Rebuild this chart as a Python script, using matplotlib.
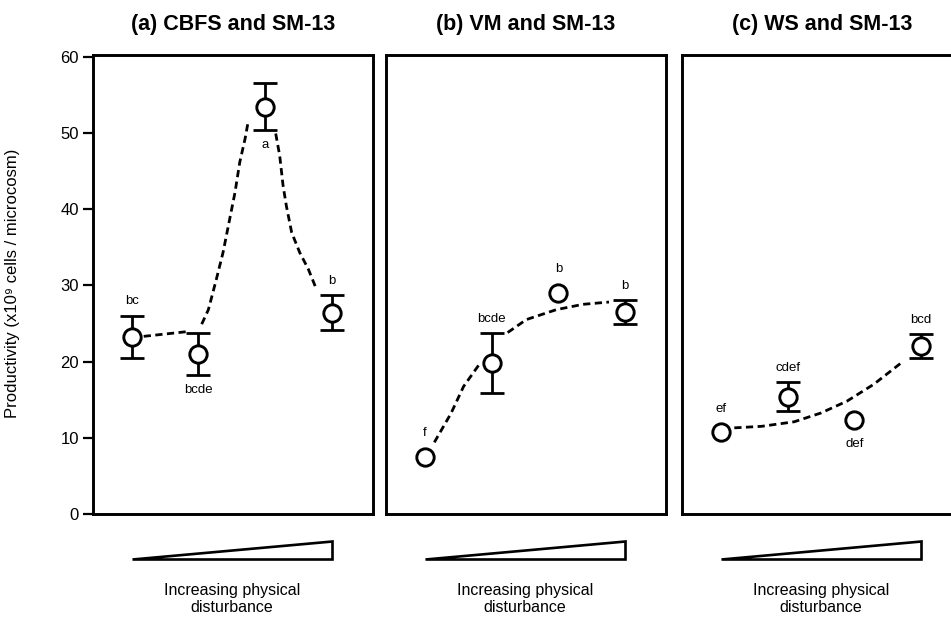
import matplotlib
matplotlib.use('Agg')
import matplotlib.pyplot as plt
from matplotlib.patches import Polygon
import numpy as np

plt.rcParams['font.family'] = ['Liberation Sans', 'DejaVu Sans']

# treatment levels (increasing disturbance)
levels = [1, 2, 3, 4]

titles = ['(a) CBFS and SM-13', '(b) VM and SM-13', '(c) WS and SM-13']

# productivity (x10^9 cells / microcosm), mean and error
means = [
    [23.2, 21.0, 53.4, 26.4],
    [7.5, 19.8, 29.0, 26.5],
    [10.7, 15.4, 12.3, 22.0],
]
errors = [
    [2.8, 2.8, 3.1, 2.3],
    [0.0, 3.9, 0.0, 1.55],
    [0.0, 1.9, 0.0, 1.6],
]

# significance letters and whether they sit above (1) or below (-1)
letters = [
    ['bc', 'bcde', 'a', 'b'],
    ['f', 'bcde', 'b', 'b'],
    ['ef', 'cdef', 'def', 'bcd'],
]
letter_side = [
    [1, -1, -1, 1],
    [1, 1, 1, 1],
    [1, 1, -1, 1],
]

# dashed fitted curves (nan = gap behind a marker)
curve_x = [
    [1.18, 1.81, np.nan, 2.05, 2.15, 2.27, 2.37, 2.47, 2.55, 2.62, 2.70, 2.75,
     np.nan, 3.16, 3.22, 3.27, 3.32, 3.40, 3.52, 3.65, 3.77],
    [1.14, 1.39, 1.58, 1.82, np.nan, 2.24, 2.52, 2.97, 3.37, 3.76],
    [1.2, 1.61, 2.1, 2.5, 2.89, 3.29, 3.73],
]
curve_y = [
    [23.3, 23.9, np.nan, 24.9, 26.8, 30.8, 34.3, 38.7, 42.2, 46.1, 49.2, 51.6,
     np.nan, 49.9, 47.0, 43.1, 40.4, 36.9, 34.3, 32.1, 29.5],
    [9.4, 13.2, 16.75, 19.7, np.nan, 23.8, 25.5, 26.8, 27.5, 27.8],
    [11.3, 11.5, 12.1, 13.25, 14.8, 17.0, 20.0],
]

fig = plt.figure(figsize=(9.51, 6.22), dpi=100)
lefts = [0.0975, 0.4059, 0.7171]

for i in range(3):
    ax = fig.add_axes([lefts[i], 0.1736, 0.2944, 0.738])
    ax.set_xlim(0.415, 4.615)
    ax.set_ylim(0, 60.2)

    ax.plot(curve_x[i], curve_y[i], color='black', lw=2,
            dashes=(2.6, 1.6), zorder=1)

    err = np.array(errors[i])
    has_err = err > 0
    ax.errorbar(np.array(levels)[has_err], np.array(means[i])[has_err],
                yerr=err[has_err], fmt='none', ecolor='black',
                elinewidth=2, capsize=8.3, capthick=2, zorder=2)
    ax.plot(levels, means[i], 'o', ms=12.5, mfc='white', mec='black',
            mew=2.1, zorder=3)

    for x, y, e, lab, side in zip(levels, means[i], errors[i],
                                  letters[i], letter_side[i]):
        ty = y + side * (max(e, 1.2) + 1.9)
        ax.text(x, ty, lab, ha='center', va='center', fontsize=9.5)

    for s in ax.spines.values():
        s.set_linewidth(2.1)
    ax.set_xticks([])
    if i == 0:
        ax.set_yticks([0, 10, 20, 30, 40, 50, 60])
        ax.tick_params(axis='y', direction='out', length=7, width=1.6,
                       labelsize=12, pad=3)
    else:
        ax.set_yticks([])

    ax.set_title(titles[i], fontsize=15.5, fontweight='bold', pad=18)

    # wedge showing increasing disturbance
    wedge = Polygon([(1, -0.0987), (4, -0.0987), (4, -0.058)], closed=True,
                    facecolor='white', edgecolor='black', lw=1.9,
                    transform=ax.get_xaxis_transform(), clip_on=False)
    ax.add_patch(wedge)
    ax.text(2.5, -0.185, 'Increasing physical\ndisturbance',
            transform=ax.get_xaxis_transform(), ha='center', va='center',
            fontsize=11.5, linespacing=1.1)

fig.text(13 / 951, 0.545, 'Productivity (x10\u2079 cells / microcosm)',
         rotation=90, ha='center', va='center', fontsize=12)

fig.savefig('out.png', dpi=100)
